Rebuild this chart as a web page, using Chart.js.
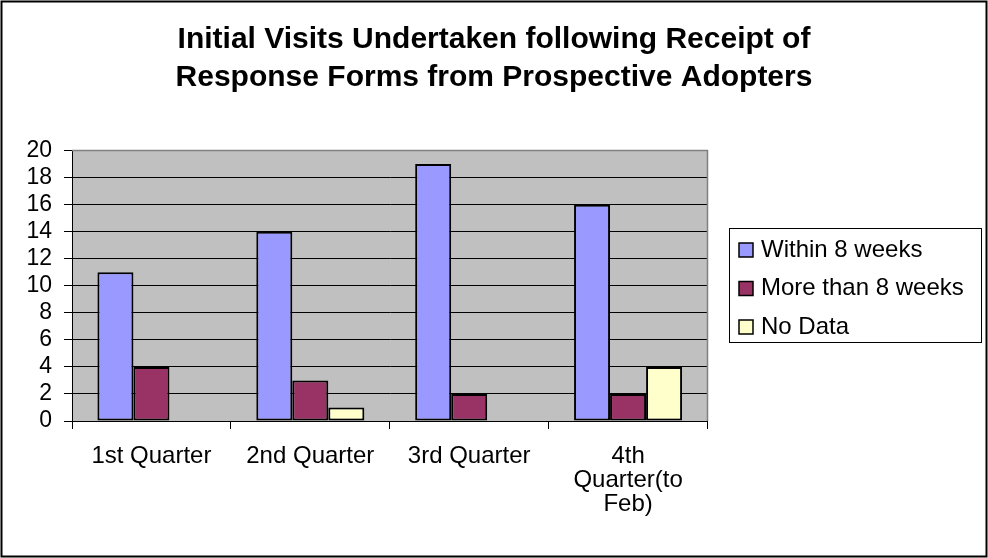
<!DOCTYPE html>
<html>
<head>
<meta charset="utf-8">
<title>Initial Visits Undertaken</title>
<script src="https://cdn.jsdelivr.net/npm/chart.js@4.4.0/dist/chart.umd.min.js"></script>
<style>
  body { margin: 0; background: #fff; }
  #wrap { width: 988px; height: 558px; position: relative; }
</style>
</head>
<body>
<div id="wrap"><canvas id="visitsChart"></canvas></div>
<script>
// dữ liệu
const quarters = ["1st Quarter", "2nd Quarter", "3rd Quarter", ["4th", "Quarter(to", "Feb)"]];
const within8Weeks = [11, 14, 19, 16];
const moreThan8Weeks = [4, 3, 2, 2];
const noData = [0, 1, 0, 4];
const seriesNames = ["Within 8 weeks", "More than 8 weeks", "No Data"];
const seriesColors = ["#9999FF", "#993366", "#FFFFCC"];
const titleLines = ["Initial Visits Undertaken following Receipt of", "Response Forms from Prospective Adopters"];

const fontFamily = "'Liberation Sans', Arial, sans-serif";
Chart.defaults.font.family = fontFamily;
Chart.defaults.color = "#000";

// nền xám của vùng vẽ + khung ngoài
const plotBackground = {
  id: "plotBackground",
  beforeDraw(chart) {
    const { ctx, chartArea: a } = chart;
    ctx.save();
    ctx.fillStyle = "#fff";
    ctx.fillRect(0, 0, chart.width, chart.height);
    ctx.fillStyle = "#C0C0C0";
    ctx.fillRect(a.left, a.top, a.right - a.left, a.bottom - a.top);
    ctx.restore();
  },
  beforeDatasetsDraw(chart) {
    const { ctx, chartArea: a } = chart;
    ctx.save();
    ctx.strokeStyle = "#808080";
    ctx.lineWidth = 1.5;
    ctx.beginPath();
    ctx.moveTo(a.left, a.top);
    ctx.lineTo(a.right, a.top);
    ctx.lineTo(a.right, a.bottom);
    ctx.stroke();
    ctx.restore();
  },
  afterDraw(chart) {
    const ctx = chart.ctx;
    ctx.save();
    ctx.strokeStyle = "#000";
    ctx.lineWidth = 2;
    ctx.strokeRect(1.5, 1.5, chart.width - 3, chart.height - 3);
    ctx.restore();
  },
};

// chú thích vẽ tay có khung, giống Excel
const boxedLegend = {
  id: "boxedLegend",
  afterDraw(chart) {
    const ctx = chart.ctx;
    const left = chart.chartArea.right + 22;
    const top = 228.5;
    const w = 252;
    const h = 114;
    const rowGap = 38.5;
    ctx.save();
    ctx.strokeStyle = "#000";
    ctx.lineWidth = 1;
    ctx.strokeRect(left, top, w, h);
    ctx.font = "24px " + fontFamily;
    ctx.textBaseline = "middle";
    chart.data.datasets.forEach((ds, i) => {
      const cy = top + 21.5 + i * rowGap;
      ctx.fillStyle = ds.backgroundColor;
      ctx.fillRect(left + 9.5, cy - 7, 14, 14);
      ctx.strokeStyle = "#000";
      ctx.lineWidth = 1.5;
      ctx.strokeRect(left + 9.5, cy - 7, 14, 14);
      ctx.fillStyle = "#000";
      ctx.fillText(ds.label, left + 31.5, cy);
    });
    ctx.restore();
  },
};

function makeDataset(i, values) {
  return {
    label: seriesNames[i],
    data: values,
    backgroundColor: seriesColors[i],
    borderColor: "#000",
    borderWidth: 2,
    borderSkipped: false,
    categoryPercentage: 0.68,
    barPercentage: 1.0,
  };
}

const ctx = document.getElementById("visitsChart").getContext("2d");
const chart = new Chart(ctx, {
  type: "bar",
  data: {
    labels: quarters,
    datasets: [
      makeDataset(0, within8Weeks),
      makeDataset(1, moreThan8Weeks),
      makeDataset(2, noData),
    ],
  },
  options: {
    responsive: true,
    maintainAspectRatio: false,
    animation: false,
    layout: { padding: 0 },
    plugins: {
      legend: { display: false },
      tooltip: { enabled: false },
      title: {
        display: true,
        text: titleLines,
        color: "#000",
        font: { size: 30, weight: "bold", lineHeight: 1.26 },
        padding: { top: 21, bottom: 54 },
      },
    },
    scales: {
      x: {
        afterFit: (scale) => { scale.height = 137; },
        grid: {
          display: true,
          drawOnChartArea: false,
          drawTicks: true,
          tickLength: 8,
          color: "#000",
          offset: true,
        },
        border: { color: "#000", width: 1 },
        ticks: {
          maxRotation: 0,
          autoSkip: false,
          padding: 15,
          color: "#000",
          font: { size: 24, lineHeight: 1.0 },
        },
      },
      y: {
        min: 0,
        max: 20,
        afterFit: (scale) => { scale.width = 72; },
        grid: {
          color: "#000",
          lineWidth: 1,
          tickLength: 8,
          tickColor: "#000",
        },
        border: { color: "#000", width: 1 },
        ticks: {
          stepSize: 2,
          autoSkip: false,
          padding: 12,
          color: "#000",
          font: { size: 23, lineHeight: 1.0 },
        },
      },
      // trục trống bên phải chỉ để chừa chỗ cho chú thích
      legendSpace: {
        type: "linear",
        position: "right",
        display: true,
        afterFit: (scale) => { scale.width = 280.5; },
        grid: { display: false, drawTicks: false },
        border: { display: false },
        ticks: { display: false },
      },
    },
  },
  plugins: [plotBackground, boxedLegend],
});
</script>
</body>
</html>
